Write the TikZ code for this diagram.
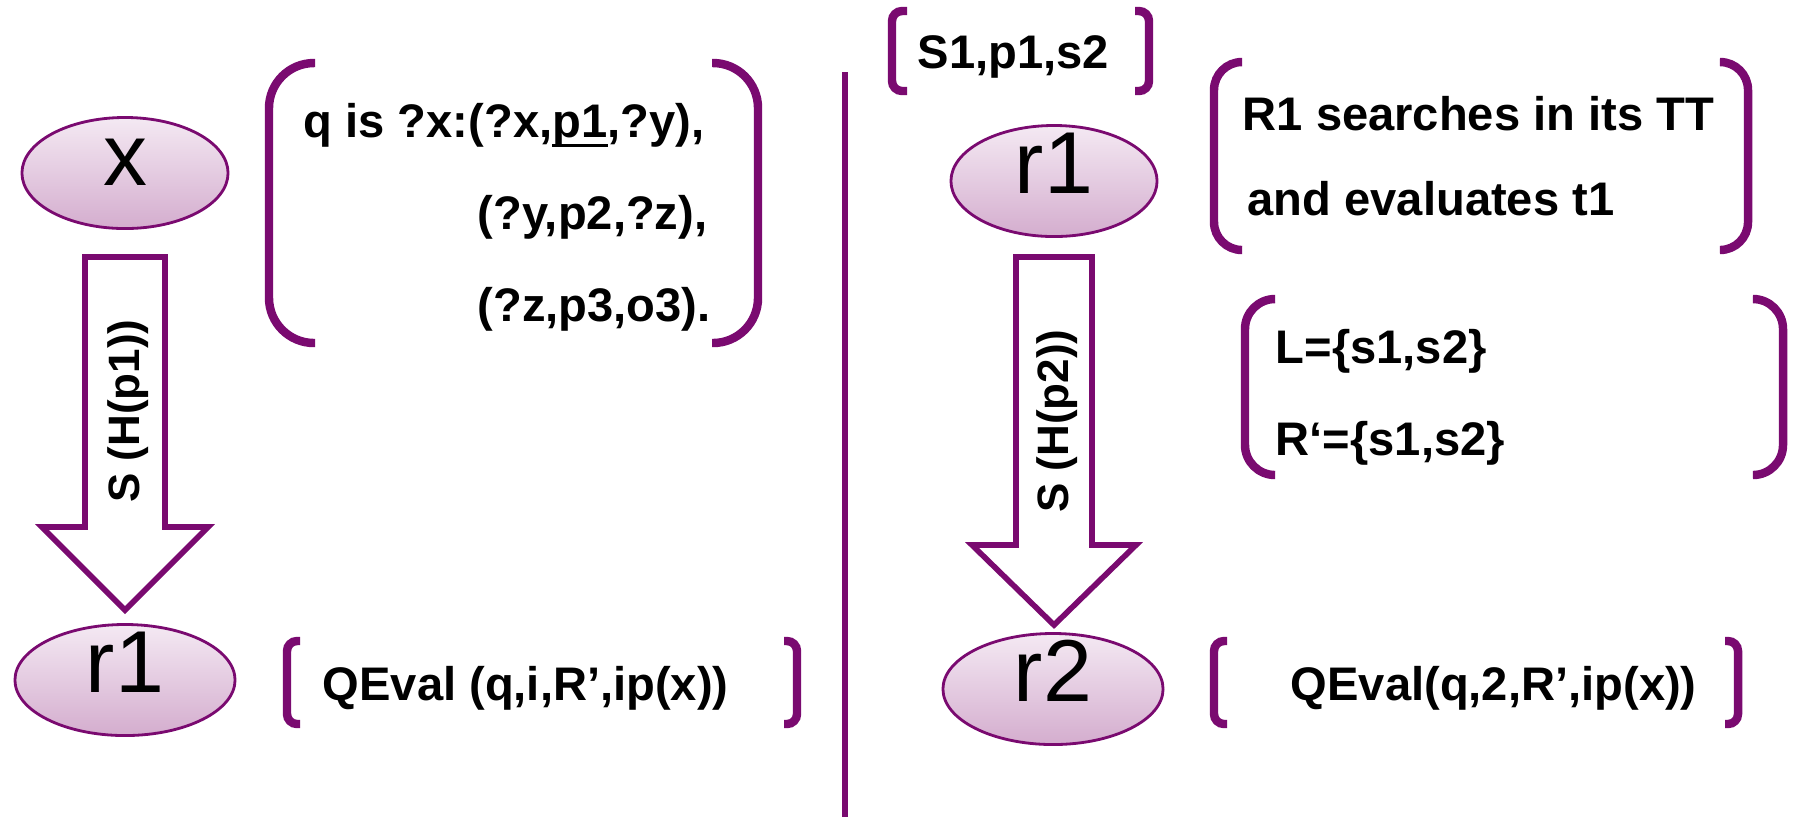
\documentclass[tikz,border=0pt]{standalone}
\usepackage{fontspec}
\setmainfont{Liberation Sans}
\usetikzlibrary{shapes.geometric}
\definecolor{plum}{RGB}{122,10,112}
\definecolor{peertop}{RGB}{244,233,243}
\definecolor{peerbottom}{RGB}{212,173,206}
\newcommand{\keyprop}[1]{\rlap{\rule[-0.22em]{1.17em}{0.065em}}#1}
\tikzset{%
  peer/.style     = {ellipse, draw=plum, line width=0.8pt, inner sep=0pt,%
                     top color=peertop, bottom color=peerbottom,%
                     minimum width=2.06cm, minimum height=1.11cm,%
                     font=\fontsize{25}{30}\selectfont,%
                     text height=0.72em, text depth=0pt},%
  bigpeer/.style  = {peer, minimum width=2.2cm},%
  msg/.style      = {anchor=base west, inner sep=0pt,%
                     font=\bfseries\fontsize{13.4}{16}\selectfont},%
  sendlabel/.style= {rotate=90, inner sep=0pt,%
                     font=\bfseries\fontsize{12.5}{15}\selectfont},%
  blockarrow/.style = {draw=plum, line width=1.6pt, fill=white},%
  bracket/.style  = {draw=plum, line width=2.4pt, rounded corners=#1},%
  bracket/.default = 0.1cm,%
  divider/.style  = {draw=plum, line width=1.8pt}%
}
\begin{document}
\begin{tikzpicture}[x=0.01cm,y=0.01cm]
	\useasboundingbox (0,0) rectangle (1795,-817);
	\begin{scope}
		\node [peer] (x) at (125,-173) {x};
		\draw [blockarrow] (85,-257) -- (165,-257) -- (165,-527) -- (208,-527)
			-- (125,-610) -- (42,-527) -- (85,-527) -- cycle;
		\node [sendlabel] (sendx) at (128,-411) {S (H(p1))};
		\node [bigpeer] (r1a) at (125,-680) {r1};
		% the query
		\draw [bracket=0.45cm] (315,-63) -- (269,-63) -- (269,-343) -- (315,-343);
		\draw [bracket=0.45cm] (712,-63) -- (758,-63) -- (758,-343) -- (712,-343);
		\node [msg] (qa) at (303,-137) {q is ?x:(?x,\keyprop{p1},?y),};
		\node [msg] (qb) at (477,-229) {(?y,p2,?z),};
		\node [msg] (qc) at (477,-321) {(?z,p3,o3).};
		\draw [bracket] (300,-641) -- (287,-641) -- (287,-724) -- (300,-724);
		\draw [bracket] (784,-641) -- (797,-641) -- (797,-724) -- (784,-724);
		\node [msg] (evala) at (322,-700) {QEval (q,i,R’,ip(x))};
	\end{scope}
	\draw [divider] (845,-72) -- (845,-817);
	\begin{scope}
		\draw [bracket] (907,-11) -- (892,-11) -- (892,-91) -- (907,-91);
		\draw [bracket] (1135,-11) -- (1149,-11) -- (1149,-91) -- (1135,-91);
		\node [msg] (route) at (917,-68) {S1,p1,s2};
		\node [peer] (r1b) at (1054,-181) {r1};
		\draw [blockarrow] (1016,-257) -- (1092,-257) -- (1092,-545) -- (1136,-545)
			-- (1054,-625) -- (972,-545) -- (1016,-545) -- cycle;
		\node [sendlabel] (sendr) at (1057,-421) {S (H(p2))};
		\node [bigpeer] (r2) at (1053,-689) {r2};
		% lookup in the triple table
		\draw [bracket=0.28cm] (1242,-62) -- (1214,-62) -- (1214,-250) -- (1242,-250);
		\draw [bracket=0.28cm] (1722,-62) -- (1748,-62) -- (1748,-250) -- (1722,-250);
		\node [msg] (tta) at (1242,-130) {R1 searches in its TT};
		\node [msg] (ttb) at (1247,-215) {and evaluates t1};
		\draw [bracket=0.3cm] (1275,-299) -- (1245,-299) -- (1245,-475) -- (1275,-475);
		\draw [bracket=0.3cm] (1757,-299) -- (1783,-299) -- (1783,-475) -- (1757,-475);
		\node [msg] (lset) at (1275,-363) {L=\{s1,s2\}};
		\node [msg] (rset) at (1275,-455) {R‘=\{s1,s2\}};
		\draw [bracket] (1227,-641) -- (1214,-641) -- (1214,-724) -- (1227,-724);
		\draw [bracket] (1725,-641) -- (1738,-641) -- (1738,-724) -- (1725,-724);
		\node [msg] (evalb) at (1290,-700) {QEval(q,2,R’,ip(x))};
	\end{scope}
\end{tikzpicture}
\end{document}
